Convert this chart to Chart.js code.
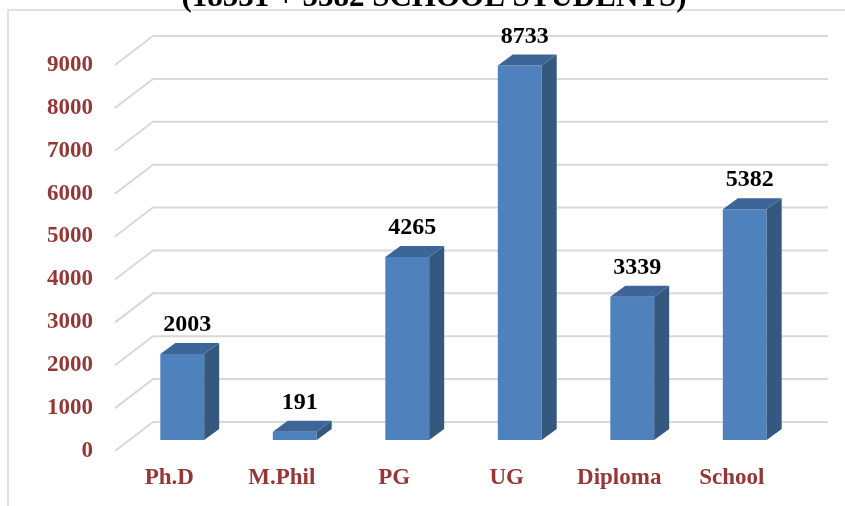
<!DOCTYPE html>
<html>
<head>
<meta charset="utf-8">
<script src="https://cdn.jsdelivr.net/npm/chart.js@4/dist/chart.umd.min.js"></script>
<style>
  html, body { margin: 0; padding: 0; background: #fff; }
  #wrap { width: 845px; height: 506px; position: relative; }
</style>
</head>
<body>
<div id="wrap"><canvas id="chart"></canvas></div>
<script>
const categories = ["Ph.D", "M.Phil", "PG", "UG", "Diploma", "School"];
const students = [2003, 191, 4265, 8733, 3339, 5382];
const titleText = "(18531 + 5382 SCHOOL STUDENTS)";

const labelRed = "#953735";
const serif = "'Liberation Serif', 'Times New Roman', serif";
const depth = { dx: 15, dy: -11 };

// back-wall grid lines with the left "floor" diagonal
const gridPlugin = {
    id: "grid3d",
    beforeDatasetsDraw(chart) {
        const ctx = chart.ctx;
        const y = chart.scales.y;
        const area = chart.chartArea;
        ctx.save();
        ctx.lineWidth = 2;
        ctx.strokeStyle = "#d9d9d9";
        y.ticks.forEach(t => {
            const py = y.getPixelForValue(t.value);
            ctx.beginPath();
            ctx.moveTo(area.left - 11, py + 11);
            ctx.lineTo(area.left + 27, py - 18);
            ctx.lineTo(area.right + 27, py - 18);
            ctx.stroke();
        });
        ctx.restore();
    }
};

// side and top faces + value labels
const barPlugin = {
    id: "bar3d",
    afterDatasetsDraw(chart) {
        const ctx = chart.ctx;
        const meta = chart.getDatasetMeta(0);
        ctx.save();
        meta.data.forEach((bar, i) => {
            const p = bar.getProps(["x", "y", "base", "width"], true);
            const l = p.x - p.width / 2, r = p.x + p.width / 2;
            // side
            ctx.fillStyle = "#35587f";
            ctx.beginPath();
            ctx.moveTo(r, p.y);
            ctx.lineTo(r + depth.dx, p.y + depth.dy);
            ctx.lineTo(r + depth.dx, p.base + depth.dy);
            ctx.lineTo(r, p.base);
            ctx.closePath();
            ctx.fill();
            // top
            ctx.fillStyle = "#3d6598";
            ctx.beginPath();
            ctx.moveTo(l, p.y);
            ctx.lineTo(l + depth.dx, p.y + depth.dy);
            ctx.lineTo(r + depth.dx, p.y + depth.dy);
            ctx.lineTo(r, p.y);
            ctx.closePath();
            ctx.fill();
            // value
            ctx.fillStyle = "#000";
            ctx.font = "bold 24px " + serif;
            ctx.textAlign = "center";
            ctx.textBaseline = "middle";
            ctx.fillText(String(students[i]), p.x + 5, p.y - 29);
        });
        ctx.restore();
    }
};

// outer frame and the clipped title
const framePlugin = {
    id: "frame",
    beforeDraw(chart) {
        const ctx = chart.ctx;
        ctx.save();
        ctx.strokeStyle = "#d9d9d9";
        ctx.lineWidth = 1.5;
        ctx.strokeRect(8, 10, 900, 600);
        ctx.fillStyle = "#000";
        ctx.font = "bold 31px " + serif;
        ctx.textAlign = "center";
        ctx.textBaseline = "alphabetic";
        ctx.fillText(titleText, 434, 6);
        ctx.restore();
    }
};

new Chart(document.getElementById("chart"), {
    type: "bar",
    data: {
        labels: categories,
        datasets: [{
            data: students,
            backgroundColor: "#4f81bd",
            borderWidth: 0,
            barPercentage: 0.39,
            categoryPercentage: 1
        }]
    },
    options: {
        responsive: true,
        maintainAspectRatio: false,
        animation: false,
        layout: { padding: { left: 0, right: 44, top: 54, bottom: 0 } },
        plugins: { legend: { display: false }, tooltip: { enabled: false } },
        scales: {
            x: {
                grid: { display: false, drawTicks: false },
                border: { display: false },
                afterFit(s) { s.height = 66; },
                ticks: {
                    color: labelRed,
                    font: { family: serif, size: 23, weight: "bold" },
                    labelOffset: -13,
                    padding: 24,
                    maxRotation: 0
                }
            },
            y: {
                min: 0,
                max: 9000,
                grid: { display: false, drawTicks: false },
                border: { display: false },
                afterFit(s) { s.width = 126; },
                ticks: {
                    stepSize: 1000,
                    color: labelRed,
                    font: { family: serif, size: 23, weight: "bold" },
                    labelOffset: 11,
                    padding: 33,
                    callback: v => String(v)
                }
            }
        }
    },
    plugins: [framePlugin, gridPlugin, barPlugin]
});
</script>
</body>
</html>
